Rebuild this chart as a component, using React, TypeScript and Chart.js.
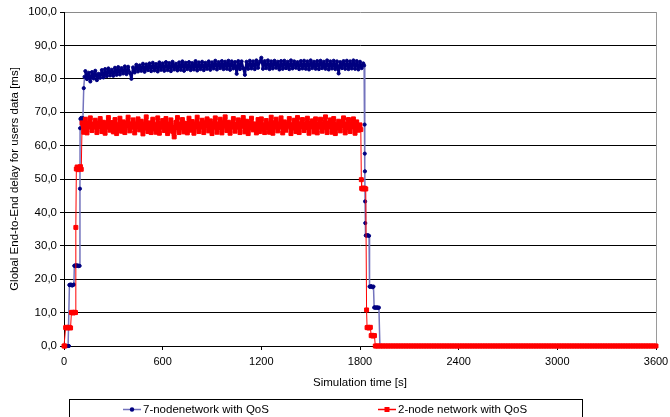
import React, { useEffect, useRef } from 'react';
import { Chart, registerables } from 'chart.js';

Chart.register(...registerables);

const FONT = '"Liberation Sans", Arial, sans-serif';

const seriesLabels = ['7-nodenetwork with QoS', '2-node network with QoS'];
const xTicks = [0, 600, 1200, 1800, 2400, 3000, 3600];
const yTicks = [0, 10, 20, 30, 40, 50, 60, 70, 80, 90, 100];

// ---- 7-node network (blue) ----
const blueRiseTimes = [0, 5, 10, 15, 20, 25, 30, 33, 35, 40, 45, 50, 55, 60, 63, 65, 70, 75, 80, 85, 90, 95, 97, 98, 100, 105, 110, 115, 120, 125];
const blueRiseValues = [0, 0, 0, 0, 0, 0, 0, 18.3, 18.2, 18.4, 18.3, 18.1, 18.3, 18.4, 24.0, 24.1, 23.9, 24.2, 24.0, 24.1, 23.9, 24.0, 47.1, 65.2, 68.0, 68.3, 67.9, 68.2, 77.2, 80.6];
const blueBandStart = 130;
const bandStep = 10;
const blueBand = [
  82.3, 79.9, 81.8, 79.2, 82.0, 80.1, 82.4, 79.6, 81.5, 80.3,
  82.6, 80.4, 82.9, 80.8, 83.1, 81.0, 82.7, 80.9, 83.3, 81.2,
  83.5, 81.3, 83.2, 81.6, 83.7, 81.4, 83.6, 81.8, 80.0, 83.4,
  81.9, 84.2, 82.2, 84.0, 82.4, 84.5, 82.1, 84.3, 82.6, 84.6,
  82.3, 84.8, 82.5, 84.4, 82.2, 84.9, 82.7, 84.6, 82.4, 85.0,
  82.6, 84.7, 82.3, 85.1, 82.8, 84.5, 82.5, 84.9, 82.7, 85.2,
  82.4, 84.8, 82.9, 85.0, 82.6, 84.7, 82.8, 85.3, 82.5, 84.9,
  82.9, 85.1, 82.6, 84.8, 83.0, 85.2, 82.7, 84.9, 83.1, 85.4,
  82.8, 85.0, 83.2, 85.3, 82.9, 85.1, 83.0, 85.4, 82.7, 85.2,
  83.1, 85.0, 81.5, 85.3, 82.9, 85.2, 83.2, 81.2, 85.1, 83.0,
  85.4, 83.1, 85.2, 82.9, 85.5, 83.3, 85.1, 86.3, 83.0, 85.3,
  83.2, 85.5, 82.9, 85.2, 83.1, 85.4, 83.3, 85.1, 82.8, 85.3,
  83.0, 85.4, 83.2, 85.1, 82.9, 85.5, 83.1, 85.2, 83.3, 85.0,
  82.9, 85.3, 83.1, 85.4, 83.0, 85.2, 82.8, 85.5, 83.2, 85.1,
  83.0, 85.3, 82.9, 85.4, 83.2, 85.1, 83.0, 85.5, 82.8, 85.2,
  83.1, 85.4, 82.9, 85.2, 81.6, 85.0, 83.2, 85.3, 83.0, 85.4,
  82.9, 85.2, 83.1, 85.5, 83.0, 85.3, 82.8, 85.1, 83.2, 84.6,
];
const blueFallTimes = [1825, 1828, 1829, 1830, 1831, 1832, 1835, 1840, 1845, 1850, 1855, 1858, 1862, 1867, 1872, 1877, 1882, 1886, 1890, 1895, 1900, 1905, 1910, 1915, 1921, 1930, 3600];
const blueFallValues = [84.0, 66.3, 57.6, 52.3, 43.3, 36.8, 33.1, 33.0, 33.2, 33.1, 33.0, 17.8, 17.7, 17.9, 17.8, 17.6, 17.8, 11.5, 11.6, 11.4, 11.5, 11.6, 11.4, 11.5, 0, 0, 0];

// ---- 2-node network (red) ----
const redRiseTimes = [0, 5, 10, 15, 20, 25, 30, 35, 40, 45, 50, 55, 60, 65, 70, 72, 75, 80, 85, 90, 95, 100, 105];
const redRiseValues = [0, 0, 5.5, 5.6, 5.4, 5.5, 5.6, 5.5, 5.4, 10.0, 10.1, 9.9, 10.0, 10.1, 10.0, 35.5, 53.0, 53.6, 52.8, 53.4, 53.1, 53.7, 52.9];
const redBandStart = 110;
const redBand = [
  66.8, 64.0, 67.9, 63.8, 66.2, 68.3, 64.5, 65.7, 67.6, 63.9,
  66.5, 68.1, 64.2, 67.0, 63.7, 65.9, 68.4, 64.6, 66.9, 64.1,
  67.8, 63.6, 65.4, 68.2, 64.3, 67.1, 63.9, 66.6, 68.5, 64.4,
  65.8, 67.7, 63.8, 66.3, 68.0, 64.7, 67.3, 63.5, 65.6, 68.6,
  64.2, 66.8, 63.9, 67.9, 65.1, 64.0, 68.3, 63.7, 66.4, 67.5,
  64.5, 68.1, 63.6, 66.0, 67.7, 64.3, 62.6, 66.9, 68.4, 63.9,
  65.5, 67.8, 64.1, 66.7, 63.8, 68.2, 64.6, 67.2, 63.7, 66.1,
  68.5, 64.2, 65.9, 67.6, 63.9, 66.8, 68.0, 64.4, 67.4, 63.6,
  66.3, 68.3, 64.0, 65.7, 67.9, 63.8, 66.6, 68.6, 64.5, 67.0,
  63.7, 66.2, 68.1, 64.3, 65.8, 67.7, 63.9, 66.9, 68.4, 64.1,
  67.3, 63.6, 65.6, 68.2, 64.7, 66.5, 63.8, 67.8, 64.2, 68.0,
  65.3, 63.9, 67.5, 66.1, 64.0, 68.5, 63.7, 66.7, 67.9, 64.4,
  65.9, 68.3, 63.8, 67.1, 64.6, 66.4, 68.1, 63.6, 65.7, 67.6,
  64.2, 68.4, 63.9, 66.0, 67.8, 64.5, 65.4, 68.2, 63.7, 66.8,
  67.4, 64.1, 68.0, 63.8, 66.3, 67.9, 64.3, 65.6, 68.6, 63.9,
  66.6, 67.7, 64.0, 68.1, 63.6, 65.8, 67.3, 64.4, 66.9, 68.3,
  63.8, 65.5, 67.8, 64.2, 66.4, 68.0, 63.7, 67.1, 64.6, 66.2,
];
const redFallTimes = [1805, 1808, 1810, 1815, 1820, 1825, 1830, 1835, 1840, 1843, 1848, 1853, 1858, 1863, 1868, 1873, 1878, 1883, 1888, 1893];
const redFallValues = [64.8, 49.8, 47.2, 47.0, 47.3, 47.1, 47.2, 47.0, 10.8, 5.5, 5.6, 5.4, 5.5, 5.6, 3.1, 3.2, 3.0, 3.1, 3.1, 0];
const redTailStart = 1900;
const redTail = [
  0, 0, 0, 0, 0, 0, 0, 0, 0, 0, 0, 0, 0, 0, 0, 0, 0, 0, 0, 0,
  0, 0, 0, 0, 0, 0, 0, 0, 0, 0, 0, 0, 0, 0, 0, 0, 0, 0, 0, 0,
  0, 0, 0, 0, 0, 0, 0, 0, 0, 0, 0, 0, 0, 0, 0, 0, 0, 0, 0, 0,
  0, 0, 0, 0, 0, 0, 0, 0, 0, 0, 0, 0, 0, 0, 0, 0, 0, 0, 0, 0,
  0, 0, 0, 0, 0, 0, 0, 0, 0, 0, 0, 0, 0, 0, 0, 0, 0, 0, 0, 0,
  0, 0, 0, 0, 0, 0, 0, 0, 0, 0, 0, 0, 0, 0, 0, 0, 0, 0, 0, 0,
  0, 0, 0, 0, 0, 0, 0, 0, 0, 0, 0, 0, 0, 0, 0, 0, 0, 0, 0, 0,
  0, 0, 0, 0, 0, 0, 0, 0, 0, 0, 0, 0, 0, 0, 0, 0, 0, 0, 0, 0,
  0, 0, 0, 0, 0, 0, 0, 0, 0, 0, 0,
];

const BLUE = '#000080';
const BLUE_LINE = '#7373bd';
const RED = '#ff0000';

type Pt = { x: number; y: number };
const pairs = (times: number[], values: number[]): Pt[] => times.map((t, i) => ({ x: t, y: values[i] }));
const sampled = (start: number, step: number, values: number[]): Pt[] => values.map((v, i) => ({ x: start + i * step, y: v }));

const blueData: Pt[] = [
  ...pairs(blueRiseTimes, blueRiseValues),
  ...sampled(blueBandStart, bandStep, blueBand),
  ...pairs(blueFallTimes, blueFallValues),
];
const redData: Pt[] = [
  ...pairs(redRiseTimes, redRiseValues),
  ...sampled(redBandStart, bandStep, redBand),
  ...pairs(redFallTimes, redFallValues),
  ...sampled(redTailStart, bandStep, redTail),
];

const blueBandEnd = blueBandStart + (blueBand.length - 1) * bandStep;
const redBandEnd = redBandStart + (redBand.length - 1) * bandStep;
const inRange = (c: any, a: number, b: number) => c.p0.parsed.x >= a && c.p1.parsed.x <= b;

const legendPlugin = {
  id: 'boxedLegend',
  afterDraw(chart: any) {
    const ctx = chart.ctx as CanvasRenderingContext2D;
    ctx.save();
    ctx.strokeStyle = '#000';
    ctx.lineWidth = 1;
    ctx.strokeRect(69.5, 399.5, 513, 30);
    const items = [
      { x: 123, color: BLUE, line: BLUE_LINE, style: 'circle', label: seriesLabels[0] },
      { x: 378, color: RED, line: RED, style: 'rect', label: seriesLabels[1] },
    ];
    const y = 409.5;
    ctx.font = `11.5px ${FONT}`;
    ctx.textBaseline = 'middle';
    ctx.textAlign = 'left';
    for (const it of items) {
      ctx.strokeStyle = it.line;
      ctx.lineWidth = 1.5;
      ctx.beginPath();
      ctx.moveTo(it.x, y);
      ctx.lineTo(it.x + 18, y);
      ctx.stroke();
      ctx.fillStyle = it.color;
      if (it.style === 'circle') {
        ctx.beginPath();
        ctx.arc(it.x + 9, y, 2.2, 0, Math.PI * 2);
        ctx.fill();
      } else {
        ctx.fillRect(it.x + 6.5, y - 2.5, 5, 5);
      }
      ctx.fillStyle = '#000';
      ctx.fillText(it.label, it.x + 20, y + 0.5);
    }
    ctx.restore();
  },
};

export default function App() {
  const ref = useRef<HTMLCanvasElement | null>(null);
  useEffect(() => {
    if (!ref.current) return;
    const chart = new Chart(ref.current, {
      type: 'line',
      data: {
        datasets: [
          {
            label: seriesLabels[0],
            data: blueData,
            borderColor: BLUE_LINE,
            borderWidth: 1.5,
            borderJoinStyle: 'round',
            segment: {
              borderColor: (c: any) => (inRange(c, blueBandStart, blueBandEnd) ? BLUE : BLUE_LINE),
              borderWidth: (c: any) => (inRange(c, blueBandStart, blueBandEnd) ? 2.4 : 1.5),
            },
            pointStyle: 'circle',
            pointRadius: 1.6,
            pointBorderWidth: 1,
            pointBackgroundColor: BLUE,
            pointBorderColor: BLUE,
            tension: 0,
            clip: false,
            order: 1,
          },
          {
            label: seriesLabels[1],
            data: redData,
            borderColor: RED,
            borderWidth: 1,
            borderJoinStyle: 'round',
            segment: {
              borderWidth: (c: any) => (inRange(c, redBandStart, redBandEnd) ? 3.8 : 1),
            },
            pointStyle: 'rect',
            pointRadius: 2.8,
            pointBorderWidth: 1,
            pointBackgroundColor: RED,
            pointBorderColor: RED,
            tension: 0,
            clip: false,
            order: 0,
          },
        ],
      },
      options: {
        animation: false,
        responsive: false,
        events: [],
        layout: { padding: { top: 12, right: 14, bottom: 19, left: 8 } },
        plugins: {
          legend: { display: false },
          tooltip: { enabled: false },
        },
        scales: {
          x: {
            type: 'linear',
            min: 0,
            max: 3600,
            afterBuildTicks: (s: any) => { s.ticks = xTicks.map((v) => ({ value: v })); },
            afterFit: (s: any) => { s.height = 52; s.paddingLeft = 0; s.paddingRight = 0; },
            ticks: {
              color: '#000',
              font: { family: FONT, size: 11 },
              padding: 5,
              maxRotation: 0,
              autoSkip: false,
              callback: (v: any) => String(v),
            },
            grid: {
              color: (c: any) => (c.tick && c.tick.value === 3600 ? '#9a9a9a' : 'rgba(0,0,0,0)'),
              tickColor: '#000',
              tickLength: 4,
              lineWidth: 1,
            },
            border: { color: '#000', width: 1 },
            title: {
              display: true,
              text: 'Simulation time [s]',
              color: '#000',
              font: { family: FONT, size: 11.5 },
              padding: { top: 0, bottom: 8 },
            },
          },
          y: {
            type: 'linear',
            min: 0,
            max: 100,
            afterBuildTicks: (s: any) => { s.ticks = yTicks.map((v) => ({ value: v })); },
            afterFit: (s: any) => { s.width = 56; s.paddingTop = 0; s.paddingBottom = 0; },
            ticks: {
              color: '#000',
              font: { family: FONT, size: 11.5 },
              padding: 3,
              callback: (v: any) => Number(v).toFixed(1).replace('.', ','),
            },
            grid: {
              color: (c: any) => (c.tick && c.tick.value === 100 ? '#8a8a8a' : '#000'),
              tickColor: '#000',
              tickLength: 4,
              lineWidth: 1,
            },
            border: { color: '#000', width: 1 },
            title: {
              display: true,
              text: 'Global End-to-End delay for users data [ms]',
              color: '#000',
              font: { family: FONT, size: 11.5 },
              padding: { top: 0, bottom: 0 },
            },
          },
        },
      },
      plugins: [legendPlugin],
    });
    return () => chart.destroy();
  }, []);
  return (
    <div style={{ position: 'absolute', left: 0, top: 0, width: 670, height: 417 }}>
      <canvas ref={ref} width={670} height={417} style={{ display: 'block' }} />
    </div>
  );
}
